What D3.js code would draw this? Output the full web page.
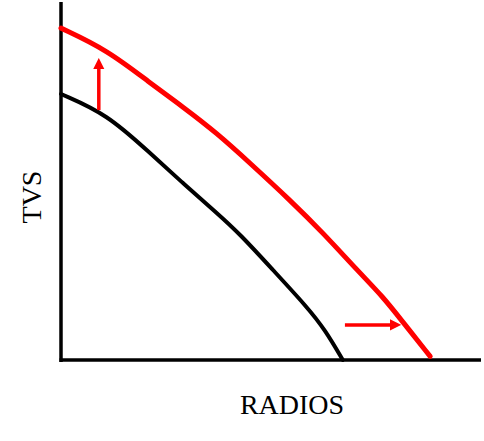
<!DOCTYPE html>
<html>
<head>
<meta charset="utf-8">
<script src="https://cdn.jsdelivr.net/npm/d3@7"></script>
<style>
  body { margin: 0; background: #fff; }
  svg text { font-family: "Liberation Serif", "DejaVu Serif", serif; }
</style>
</head>
<body>
<div id="chart"></div>
<script>
// curves, in axis units (0..100 on both axes)
var oldX = [0, 10.95, 21.2, 29, 37.1, 42.6, 50.5, 58.6, 62.9, 67.1];
var oldY = [74.3, 68.7, 57.8, 49.4, 41.1, 35.2, 25.1, 14.8, 8.4, 0];
var newX = [0, 11, 21.2, 29, 37.1, 45, 54.5, 62.4, 70.5, 76.7, 81.2, 87.9];
var newY = [92.7, 86.6, 77.4, 70.7, 63.4, 55, 44.7, 35.5, 25.1, 17.6, 10.9, 1];

// the two shift arrows [x1, y1, x2, y2]
var upArrow = [9, 69.8, 9, 81.8];
var rightArrow = [67.6, 9.8, 78.8, 9.8];

var xLabel = "RADIOS", yLabel = "TVS";

var w = 484, h = 441;

var svg = d3.select("#chart")
    .append("svg")
    .attr("width", w)
    .attr("height", h);

// scales
var x = d3.scaleLinear().domain([0, 100]).range([61, 481]);
var y = d3.scaleLinear().domain([0, 100]).range([360, 2]);

// arrow head
svg.append("defs")
    .append("marker")
    .attr("id", "head")
    .attr("viewBox", "0 0 10 10")
    .attr("refX", 2)
    .attr("refY", 5)
    .attr("markerWidth", 3.3)
    .attr("markerHeight", 3.3)
    .attr("orient", "auto")
    .append("path")
    .attr("d", "M0,0 L10,5 L0,10 Z")
    .attr("fill", "#ff0000");

// the axes are just plain lines, no ticks
svg.append("line")
    .attr("x1", x(0)).attr("y1", y(100))
    .attr("x2", x(0)).attr("y2", y(0) + 2)
    .attr("stroke", "#000").attr("stroke-width", 3.5);

svg.append("line")
    .attr("x1", x(0) - 1.5).attr("y1", y(0))
    .attr("x2", x(100)).attr("y2", y(0))
    .attr("stroke", "#000").attr("stroke-width", 3.5);

var line = d3.line()
    .x(function(d) { return x(d[0]); })
    .y(function(d) { return y(d[1]); })
    .curve(d3.curveBasis);

svg.append("path")
    .datum(d3.zip(oldX, oldY))
    .attr("d", line)
    .attr("fill", "none")
    .attr("stroke", "#000")
    .attr("stroke-width", 4)
    .attr("stroke-linecap", "round");

svg.append("path")
    .datum(d3.zip(newX, newY))
    .attr("d", line)
    .attr("fill", "none")
    .attr("stroke", "#ff0000")
    .attr("stroke-width", 5)
    .attr("stroke-linecap", "round");

// shift arrows
[upArrow, rightArrow].forEach(function(a) {
    svg.append("line")
        .attr("x1", x(a[0])).attr("y1", y(a[1]))
        .attr("x2", x(a[2])).attr("y2", y(a[3]))
        .attr("stroke", "#ff0000")
        .attr("stroke-width", 3.5)
        .attr("marker-end", "url(#head)");
});

// axis titles
svg.append("text")
    .attr("x", 292)
    .attr("y", 414)
    .attr("text-anchor", "middle")
    .style("font-size", "28px")
    .text(xLabel);

svg.append("text")
    .attr("transform", "translate(41,197) rotate(-90)")
    .attr("text-anchor", "middle")
    .style("font-size", "28px")
    .text(yLabel);
</script>
</body>
</html>
